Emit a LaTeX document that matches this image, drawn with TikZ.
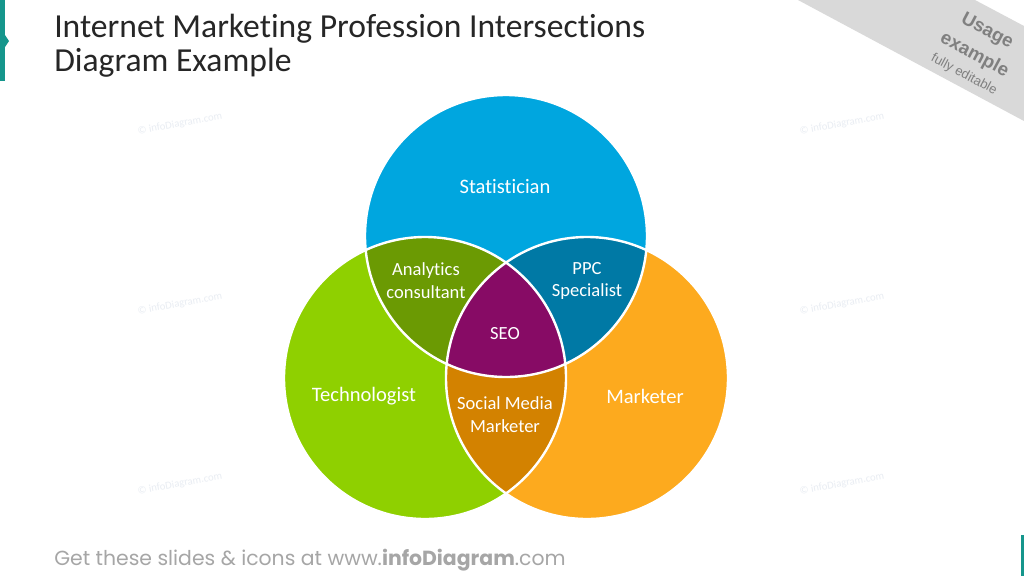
\documentclass[tikz,border=0pt]{standalone}
\usepackage{fontspec}
\setmainfont{Carlito}[Ligatures=NoCommon]
\newfontfamily\footfont{Poppins}
\newfontfamily\ribbonfont{Liberation Sans}

\definecolor{statblue}{HTML}{00A6DF}
\definecolor{techgreen}{HTML}{8FD000}
\definecolor{marketorange}{HTML}{FDAA1E}
\definecolor{analyticsgreen}{HTML}{6B9A03}
\definecolor{ppcblue}{HTML}{0079A5}
\definecolor{socialbrown}{HTML}{D38200}
\definecolor{seopurple}{HTML}{870B65}
\definecolor{tealaccent}{HTML}{15968C}
\definecolor{ribbongray}{HTML}{D9D9D9}
\definecolor{ribbontext}{HTML}{808080}
\definecolor{footgray}{HTML}{A6A6A6}
\definecolor{markgray}{HTML}{E9EDF3}

\tikzset{
  mainlabel/.style={text=white, inner sep=0pt, font=\fontsize{15.4}{18}\selectfont},
  sublabel/.style={text=white, inner sep=0pt, align=center, font=\fontsize{13.9}{17.2}\selectfont},
  watermark/.style={text=markgray, rotate=10, inner sep=0pt, font=\fontsize{8}{9}\selectfont},
  ribbonlabel/.style={text=ribbontext, rotate=-28, inner sep=0pt, align=center},
}

\begin{document}
\begin{tikzpicture}[%
      x=0.75pt, y=-0.75pt,
      ]
      \useasboundingbox (0,0) rectangle (1024,576);
      \fill [white] (0,0) rectangle (1024,576);

      % side accents
      \fill [tealaccent] (0,0) rectangle (5,81);
      \fill [tealaccent] (5,35) -- (9,41) -- (5,47) -- cycle;
      \fill [tealaccent] (1021,535) rectangle (1024,576);

      % corner ribbon
      \fill [ribbongray] (798,0) -- (975,0) -- (1024,26) -- (1024,121) -- cycle;
      \node [ribbonlabel, font=\ribbonfont\bfseries\fontsize{14}{20.5}\selectfont] (usage) at (976,52)
        {Usage\\example\\[-5pt]\mdseries\fontsize{9.8}{15}\selectfont fully editable};

      % title
      \node [anchor=base west, inner sep=0pt, text=black!85, font=\fontsize{25.2}{29}\selectfont] (title1) at (54,37) {Internet Marketing Profession Intersections};
      \node [anchor=base west, inner sep=0pt, text=black!85, font=\fontsize{25.2}{29}\selectfont] (title2) at (54,71) {Diagram Example};

      % watermarks
      \node [watermark] (wm1) at (180,124) {\textcopyright\ infoDiagram.com};
      \node [watermark] (wm2) at (842,124) {\textcopyright\ infoDiagram.com};
      \node [watermark] (wm3) at (180,304) {\textcopyright\ infoDiagram.com};
      \node [watermark] (wm4) at (842,304) {\textcopyright\ infoDiagram.com};
      \node [watermark] (wm5) at (180,484) {\textcopyright\ infoDiagram.com};
      \node [watermark] (wm6) at (842,484) {\textcopyright\ infoDiagram.com};

      % circles
      \fill [statblue] (506,236) circle (141);
      \fill [techgreen] (425,378) circle (141);
      \fill [marketorange] (587,378) circle (141);

      % intersections
      \begin{scope}
        \clip (506,236) circle (141);
        \fill [analyticsgreen] (425,378) circle (141);
        \fill [ppcblue] (587,378) circle (141);
      \end{scope}
      \begin{scope}
        \clip (425,378) circle (141);
        \fill [socialbrown] (587,378) circle (141);
        \clip (587,378) circle (141);
        \fill [seopurple] (506,236) circle (141);
      \end{scope}

      \draw [color=white, line width=1.8pt] (506,236) circle (141);
      \draw [color=white, line width=1.8pt] (425,378) circle (141);
      \draw [color=white, line width=1.8pt] (587,378) circle (141);

      % labels
      \node [mainlabel] (stat) at (505,187) {Statistician};
      \node [mainlabel] (tech) at (364,396) {Technologist};
      \node [mainlabel] (market) at (645,396) {Marketer};
      \node [sublabel] (analytics) at (426,281) {Analytics\\consultant};
      \node [sublabel] (ppc) at (587,281) {PPC\\Specialist};
      \node [sublabel] (seo) at (505,334) {SEO};
      \node [sublabel] (social) at (505,415) {Social Media\\Marketer};

      % footer
      \node [anchor=base west, inner sep=0pt, text=footgray, font=\footfont\fontsize{15.3}{17}\selectfont] (footer) at (54,565) {Get these slides \& icons at www.{\bfseries infoDiagram}.com};
      \end{tikzpicture}
\end{document}
